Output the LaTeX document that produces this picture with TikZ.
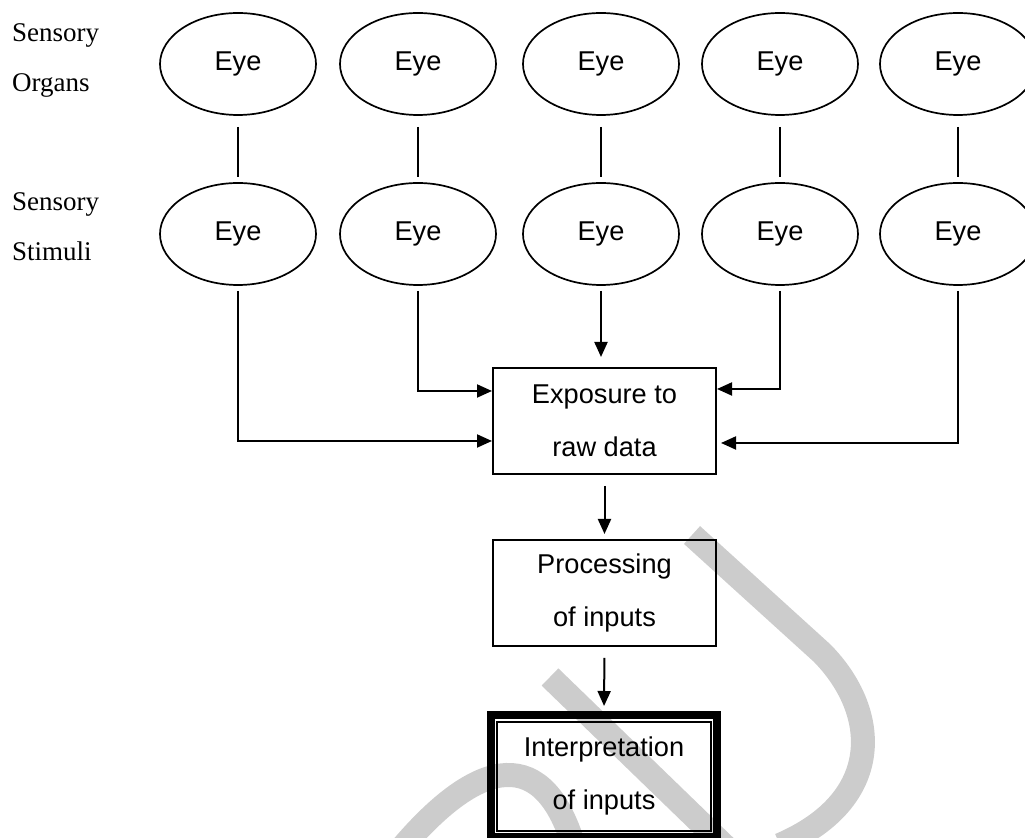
\documentclass[tikz,border=0pt]{standalone}
\usepackage{fontspec}
\setmainfont{Liberation Serif}
\newfontfamily\eyefont{Liberation Sans}
\usetikzlibrary{arrows.meta,shapes.geometric}

\begin{document}
\begin{tikzpicture}[x=0.5pt, y=-0.5pt]
	\tikzstyle{every node}=[font=\eyefont\fontsize{13.6}{26.5}\selectfont]
	\tikzstyle{eye}=[ellipse, draw, line width=0.85pt, minimum width=78pt, minimum height=51pt, inner sep=0pt]
	\tikzstyle{stepbox}=[rectangle, draw, line width=1pt, minimum width=111.5pt, minimum height=53pt, align=center]
	\tikzstyle{link}=[line width=1pt]
	\tikzstyle{arr}=[line width=1pt, -{Triangle[length=7.5pt,width=6.5pt]}]
	\tikzstyle{faint}=[line width=12pt, gray!40]
	\tikzstyle{rowlabel}=[font=\fontsize{13.5}{25}\selectfont, align=left, anchor=west]

	\useasboundingbox (0,0) rectangle (1025,838);

	%background sign
	\begin{scope}
		\clip (0,0) rectangle (1025,838);
		\draw[faint] (692,535) -- (822,653) .. controls (880,712) and (885,800) .. (780,845);
		\draw[faint] (550,677) -- (770,890);
		\draw[faint] (400,850) .. controls (480,755) and (545,745) .. (575,850);
	\end{scope}

	%row labels
	\node[rowlabel] (lblorg) at (5,60) {Sensory\\Organs};
	\node[rowlabel] (lblstim) at (5,227) {Sensory\\Stimuli};

	%eyes
	\foreach \i/\x in {1/238,2/418,3/601,4/780,5/958} {
		\node[eye] (organ\i) at (\x,64) {Eye};
		\node[eye] (stim\i) at (\x,234) {Eye};
		\draw[link, shorten <=5.5pt, shorten >=2.5pt] (organ\i.south) -- (stim\i.north);
	}

	%boxes
	\node[stepbox] (expo) at (604.5,421) {Exposure to\\raw data};
	\node[stepbox] (proc) at (604.5,593) {Processing\\of inputs};
	\node[stepbox, line width=4pt, minimum width=113pt, minimum height=61pt] (interp) at (604,776) {Interpretation\\of inputs};
	\draw[line width=0.8pt] ([shift={(5pt,-5.5pt)}]interp.north west) rectangle ([shift={(-5pt,5pt)}]interp.south east);

	%arrows
	\draw[arr, shorten <=2.5pt] (stim1.south) |- ([yshift=-10pt]expo.west);
	\draw[arr, shorten <=2.5pt] (stim2.south) |- ([yshift=15pt]expo.west);
	\draw[arr, shorten <=2.5pt, shorten >=5pt] (stim3.south) -- (stim3.south |- expo.north);
	\draw[arr, shorten <=2.5pt] (stim4.south) |- ([yshift=16pt]expo.east);
	\draw[arr, shorten <=2.5pt, shorten >=2pt] (stim5.south) |- ([yshift=-11pt]expo.east);
	\draw[arr, shorten <=5.5pt, shorten >=2.5pt] (expo.south) -- (proc.north);
	\draw[arr, shorten <=5.5pt, shorten >=2.5pt] (proc.south) -- (interp.north);
\end{tikzpicture}
\end{document}
